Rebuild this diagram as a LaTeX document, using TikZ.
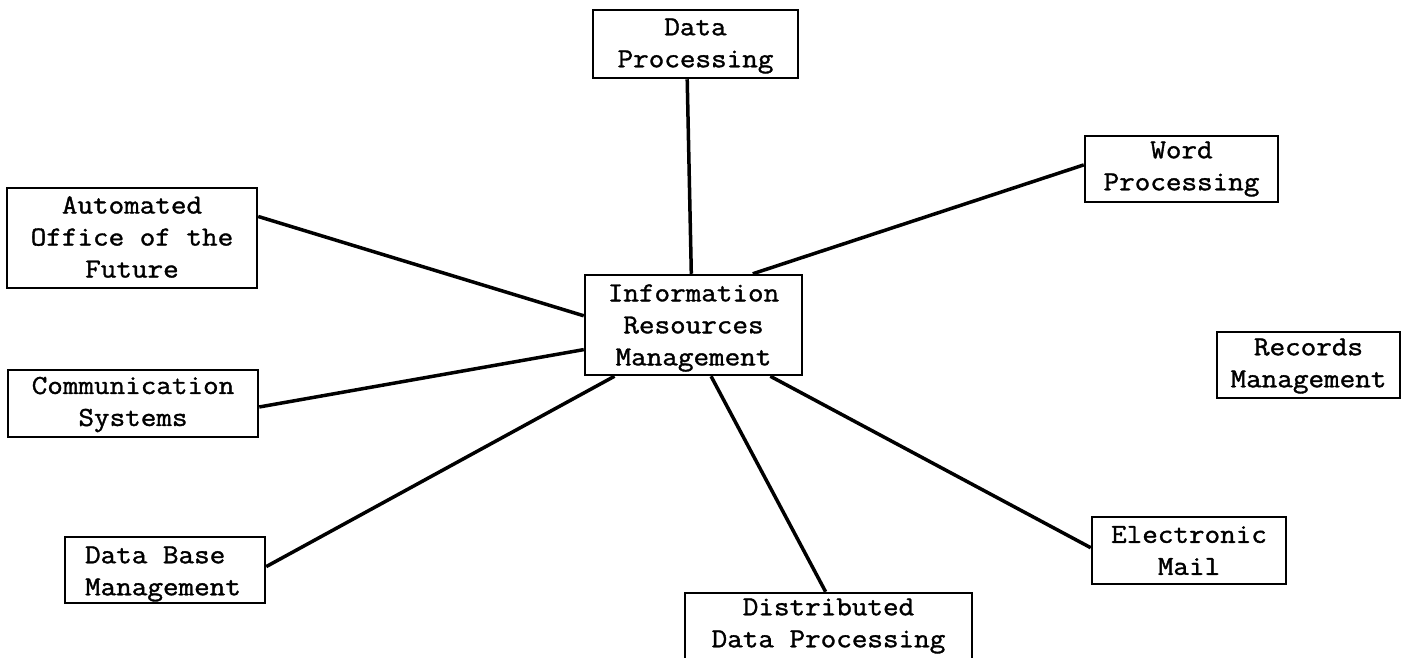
\documentclass[tikz,border=0pt]{standalone}
\usepackage{fontspec}
\newfontfamily\twfont[FakeBold=1.3,FakeStretch=1.1]{Latin Modern Mono}
\usetikzlibrary{calc}
\begin{document}
\begin{tikzpicture}[x=1pt,y=-1pt,
  box/.style={draw=black,line width=2.5pt,rectangle,inner sep=0pt},
  txt/.style={inner sep=0pt,align=center,
    font=\twfont\fontsize{27.5}{32}\selectfont},
  link/.style={draw=black,line width=3.5pt}]
\useasboundingbox[fill=white] (0,0) rectangle (1412,657);
\node[box,minimum width=205,minimum height=68] (dp) at (695.5,44) {};
\node[txt] (dpt) at ($(dp)+(0,2)$) {Data\\Processing};
\node[box,minimum width=217,minimum height=100] (irm) at (693.5,325) {};
\node[txt] (irmt) at ($(irm)+(0,3)$) {Information\\Resources\\Management};
\node[box,minimum width=193,minimum height=66] (wp) at (1181.5,169) {};
\node[txt] (wpt) at ($(wp)+(0,0)$) {Word\\Processing};
\node[box,minimum width=250,minimum height=100] (aof) at (132,238) {};
\node[txt] (aoft) at ($(aof)+(0,-1)$) {Automated\\Office of the\\Future};
\node[box,minimum width=250,minimum height=67] (cs) at (133,403.5) {};
\node[txt] (cst) at ($(cs)+(0,1)$) {Communication\\Systems};
\node[box,minimum width=183,minimum height=66] (rm) at (1308.5,365) {};
\node[txt] (rmt) at ($(rm)+(0,1)$) {Records\\Management};
\node[box,minimum width=200,minimum height=66] (dbm) at (165,570) {};
\node[txt,align=left] (dbmt) at ($(dbm)+(-2,4)$) {Data Base\\Management};
\node[box,minimum width=194,minimum height=67] (em) at (1189,550.5) {};
\node[txt] (emt) at ($(em)+(0,0)$) {Electronic\\Mail};
\node[box,minimum width=287,minimum height=68] (ddp) at (828.5,627) {};
\node[txt] (ddpt) at ($(ddp)+(0,-1)$) {Distributed\\Data Processing};
\draw[link] ($(dp.south west)!0.46!(dp.south east)$) -- ($(irm.north west)!0.49!(irm.north east)$);
\draw[link] ($(wp.north west)!0.44!(wp.south west)$) -- ($(irm.north west)!0.77!(irm.north east)$);
\draw[link] ($(aof.north east)!0.29!(aof.south east)$) -- ($(irm.north west)!0.41!(irm.south west)$);
\draw[link] ($(cs.north east)!0.55!(cs.south east)$) -- ($(irm.north west)!0.74!(irm.south west)$);
\draw[link] ($(dbm.north east)!0.45!(dbm.south east)$) -- ($(irm.south west)!0.14!(irm.south east)$);
\draw[link] ($(ddp.north west)!0.49!(ddp.north east)$) -- ($(irm.south west)!0.58!(irm.south east)$);
\draw[link] ($(em.north west)!0.46!(em.south west)$) -- ($(irm.south west)!0.85!(irm.south east)$);
\end{tikzpicture}
\end{document}
